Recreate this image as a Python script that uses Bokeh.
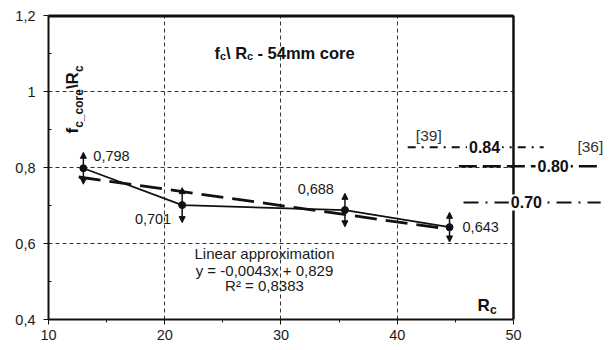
import math
from bokeh.plotting import figure
from bokeh.models import (Range1d, FixedTicker, CustomJSTickFormatter, Label, LinearAxis,
                          Arrow, NormalHead, ColumnDataSource, Span)
from bokeh.embed import file_html
from bokeh.resources import INLINE

# ---------------- data ----------------
rc = [13.0, 21.5, 35.5, 44.5]
ratio = [0.798, 0.701, 0.688, 0.643]
err = [0.042, 0.046, 0.044, 0.039]
point_labels = ["0,798", "0,701", "0,688", "0,643"]

trend_x = [12.6, 44.6]
trend_y = [0.775, 0.637]
fit_lines = ["Linear approximation", "y = -0,0043x + 0,829", "R\u00b2 = 0,8383"]

ref_values = ["0.84", "0.80", "0.70"]
ref_levels = [0.853, 0.803, 0.708]
ref_x0 = [40.9, 45.3, 45.7]
ref_x1 = [52.6, 57.2, 57.5]
ref_label_x = [46.0, 51.9, 49.6]
ref_sources = ["[39]", "[36]"]
ref_source_x = [41.6, 55.5]

x_ticks = [10, 20, 30, 40, 50]
x_minor = [15, 25, 35, 45]
y_ticks = [0.4, 0.6, 0.8, 1.0, 1.2]
y_minor = [0.5, 0.7, 0.9, 1.1]
grid_x = [20, 30, 40]
grid_y = [0.6, 0.8, 1.0]
box_x = [10, 50]
box_y = [0.4, 1.2]

FONT = "Liberation Sans"
INK = "#1a1a1a"
EDGE = "#111111"

p = figure(width=614, height=350, x_range=Range1d(10, 58.69), y_range=Range1d(0.4, 1.2),
           output_backend="svg", toolbar_location=None,
           min_border_left=48, min_border_right=0, min_border_top=15, min_border_bottom=31)
p.outline_line_color = None
p.background_fill_color = "white"
p.border_fill_color = "white"

# vertical dashed grid (real grid), horizontal dashed grid limited to the box
p.xgrid.ticker = FixedTicker(ticks=grid_x)
p.xgrid.grid_line_color = "#333333"
p.xgrid.grid_line_width = 1
p.xgrid.grid_line_dash = "4 3"
p.ygrid.visible = False

# axes
for ax in (p.xaxis[0], p.yaxis[0]):
    ax.axis_line_width = 2
    ax.axis_line_color = EDGE
    ax.major_tick_line_color = EDGE
    ax.minor_tick_line_color = EDGE
    ax.major_label_text_font = FONT
    ax.major_label_text_font_size = "14.5px"
    ax.major_label_text_color = INK
    ax.major_tick_in = 0
    ax.major_tick_out = 5

p.xaxis.ticker = FixedTicker(ticks=x_ticks, minor_ticks=x_minor)
p.xaxis.bounds = (box_x[0], box_x[1])
p.xaxis.minor_tick_in = 0
p.xaxis.minor_tick_out = 3
p.xaxis.major_label_standoff = 5
p.xaxis.formatter = CustomJSTickFormatter(code="return tick.toFixed(0);")

p.yaxis.ticker = FixedTicker(ticks=y_ticks, minor_ticks=y_minor)
p.yaxis.minor_tick_in = 3
p.yaxis.minor_tick_out = 0
p.yaxis.major_label_standoff = 8
p.yaxis.formatter = CustomJSTickFormatter(
    code="return tick.toFixed(1).replace('.', ',').replace(',0', '');")

# top edge of the box as a bare axis line
top_ax = LinearAxis(ticker=FixedTicker(ticks=[]), bounds=(box_x[0], box_x[1]),
                    axis_line_width=2, axis_line_color=EDGE,
                    major_tick_in=0, major_tick_out=0, minor_tick_in=0, minor_tick_out=0,
                    major_label_text_font_size="0px")
p.add_layout(top_ax, "above")

p.segment(x0=box_x[0], y0=grid_y, x1=box_x[1], y1=grid_y, line_color="#333333",
          line_width=1, line_dash="4 3")

# box edges drawn as filled thin rectangles (right edge and top edge)
p.rect(x=[box_x[1]], y=[(box_y[0] + box_y[1]) / 2], width=2, height=[box_y[1] - box_y[0]],
       width_units="screen", fill_color=EDGE, line_color=None)
p.rect(x=[(box_x[0] + box_x[1]) / 2], y=[box_y[1]], width=[box_x[1] - box_x[0]], height=4,
       height_units="screen", fill_color=EDGE, line_color=None)
p.add_layout(Span(location=box_x[1], dimension="height", line_color=EDGE, line_width=2))

# reference lines on the right
p.segment(x0=[ref_x0[0]], y0=[ref_levels[0]], x1=[ref_x1[0]], y1=[ref_levels[0]],
          line_color=EDGE, line_width=2, line_dash="8 6 2 6")
p.segment(x0=[ref_x0[1]], y0=[ref_levels[1]], x1=[ref_x1[1]], y1=[ref_levels[1]],
          line_color=EDGE, line_width=2.5, line_dash="18 6")
p.segment(x0=[ref_x0[2]], y0=[ref_levels[2]], x1=[ref_x1[2]], y1=[ref_levels[2]],
          line_color=EDGE, line_width=2, line_dash="15 7 2 7")

for txt, lx, lvl in zip(ref_values, ref_label_x, ref_levels):
    p.add_layout(Label(x=lx, y=lvl, text=txt, text_font=FONT, text_font_size="16px",
                       text_font_style="bold", text_color=EDGE,
                       text_baseline="middle", text_align="left",
                       background_fill_color="white", padding=2))
p.add_layout(Label(x=ref_source_x[0], y=ref_levels[0], y_offset=3, text=ref_sources[0],
                   text_font=FONT, text_font_size="15.5px", text_color="#333333"))
p.add_layout(Label(x=ref_source_x[1], y=ref_levels[1], y_offset=11, text=ref_sources[1],
                   text_font=FONT, text_font_size="15.5px", text_color="#333333"))

# trend line
p.line(trend_x, trend_y, line_color=EDGE, line_width=2.8, line_dash="22 9")

# data line + points + double-headed error arrows
p.line(rc, ratio, line_color=EDGE, line_width=1.8)
src = ColumnDataSource(dict(x=rc, lo=[v - e for v, e in zip(ratio, err)],
                            hi=[v + e for v, e in zip(ratio, err)]))
p.add_layout(Arrow(x_start="x", y_start="lo", x_end="x", y_end="hi", source=src,
                   line_width=1.5, line_color=EDGE,
                   start=NormalHead(size=6, fill_color=EDGE, line_color=EDGE, line_width=1),
                   end=NormalHead(size=6, fill_color=EDGE, line_color=EDGE, line_width=1)))
p.scatter(rc, ratio, size=7, color=EDGE)

# point labels
offs = [(10, 7, "left"), (-11, -19, "right"), (-11, 16, "right"), (13, -5, "left")]
for x, y, t, (dx, dy, al) in zip(rc, ratio, point_labels, offs):
    p.add_layout(Label(x=x, y=y, x_offset=dx, y_offset=dy, text=t, text_align=al,
                       text_font=FONT, text_font_size="14.5px", text_color=INK))

# screen-position helper (page px -> frame screen units)
FL, FB = 48, 319


def put(text, px, py, size, bold=True, angle=0.0, align="left", color=EDGE):
    p.add_layout(Label(x=px - FL, y=FB - py, x_units="screen", y_units="screen",
                       text=text, angle=angle, text_font=FONT,
                       text_font_size=f"{size}px",
                       text_font_style="bold" if bold else "normal",
                       text_align=align, text_baseline="alphabetic", text_color=color))


# title: f_c \ R_c - 54mm core
put("f", 214, 52, 16.5)
put("c", 219.5, 55, 11)
put("\\ R", 225.6, 52, 16.5)
put("c", 246.5, 55, 11)
put("- 54mm core", 257, 52, 16.5)

# y label (vertical): f_c_core \R_c
up = math.pi / 2
put("f", 72, 133, 17, angle=up)
put("c_core", 78, 127.3, 12, angle=up)
put("\\R", 72, 88.6, 17, angle=up)
put("c", 78, 71.6, 12, angle=up)

# x label: R_c
put("R", 477, 305, 17)
put("c", 489.5, 309, 12)

# regression text
for i, t in enumerate(fit_lines):
    put(t, 264, [253, 270, 285][i], 15, bold=False, align="center", color=INK)

open("out.html", "w").write(file_html(p, INLINE))
